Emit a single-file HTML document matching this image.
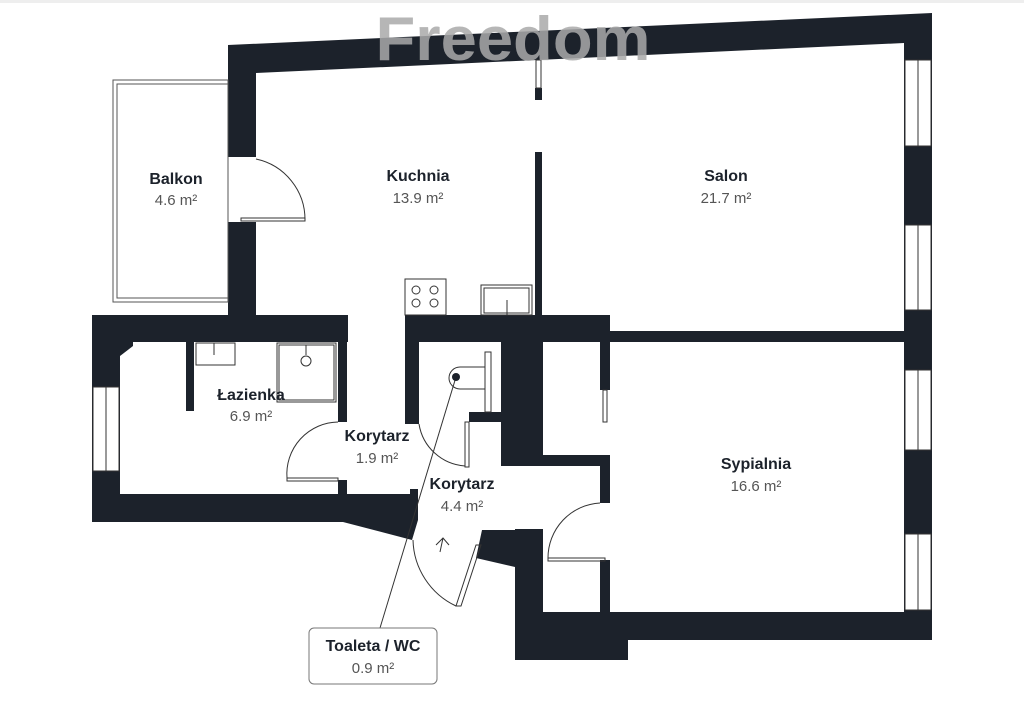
<!DOCTYPE html>
<html><head><meta charset="utf-8"><style>
html,body{margin:0;padding:0;background:#fff;width:1024px;height:724px;overflow:hidden}
svg{display:block}
text{font-family:"Liberation Sans",sans-serif;text-anchor:middle}
.t{font-weight:bold;font-size:16px;fill:#1c222b}
.a{font-size:15px;fill:#555}
</style></head><body>
<svg width="1024" height="724" viewBox="0 0 1024 724">
<rect x="0" y="0" width="1024" height="3" fill="#eee"/>
<g fill="#1c222b">
<polygon points="228,45 932,13 932,43 904,43 256,73 228,73"/>
<rect x="904" y="43" width="28" height="597"/>
<rect x="228" y="45" width="28" height="112"/>
<rect x="228" y="222" width="28" height="96"/>
<rect x="535" y="88" width="7" height="12"/>
<rect x="535" y="152" width="7" height="170"/>
<rect x="92" y="315" width="256" height="27"/>
<rect x="92" y="315" width="28" height="207"/>
<polygon points="120,342 133,342 133,346 120,356"/>
<polygon points="92,494 410,494 410,489 418,489 418,520 412,540 343,522 92,522"/>
<rect x="186" y="340" width="8" height="71"/>
<rect x="338" y="340" width="9" height="82"/>
<rect x="338" y="480" width="9" height="16"/>
<rect x="405" y="315" width="205" height="27"/>
<rect x="608" y="331" width="300" height="11"/>
<rect x="405" y="340" width="14" height="84"/>
<rect x="501" y="340" width="42" height="126"/>
<rect x="469" y="412" width="34" height="10"/>
<rect x="501" y="455" width="109" height="11"/>
<rect x="600" y="340" width="10" height="50"/>
<rect x="600" y="455" width="10" height="48"/>
<rect x="600" y="560" width="10" height="55"/>
<polygon points="482,530 515,530 515,567 476,558"/>
<rect x="515" y="529" width="28" height="131"/>
<rect x="515" y="630" width="113" height="30"/>
<rect x="543" y="612" width="389" height="28"/>
</g>
<g fill="#fff" stroke="#333" stroke-width="1">
<rect x="905" y="60" width="26" height="86"/>
<rect x="905" y="225" width="26" height="85"/>
<rect x="905" y="370" width="26" height="80"/>
<rect x="905" y="534" width="26" height="76"/>
<rect x="93" y="387" width="26" height="84"/>
<rect x="536" y="60" width="5" height="28"/>
<rect x="603" y="390" width="4" height="32"/>
</g>
<g stroke="#333" stroke-width="1">
<line x1="918" y1="60" x2="918" y2="146"/><line x1="918" y1="225" x2="918" y2="310"/>
<line x1="918" y1="370" x2="918" y2="450"/><line x1="918" y1="534" x2="918" y2="610"/>
<line x1="106" y1="387" x2="106" y2="471"/>
</g>
<rect x="113" y="80" width="115" height="222" fill="none" stroke="#555"/>
<rect x="117" y="84" width="111" height="214" fill="none" stroke="#555"/>
<g fill="none" stroke="#333" stroke-width="1">
<path d="M256,159 A62,62 0 0 1 305,220"/><rect x="241" y="218" width="64" height="3"/>
<path d="M338,422 A52,52 0 0 0 287,478"/><rect x="287" y="478" width="51" height="3"/>
<path d="M419,424 A50,50 0 0 0 465,466"/><rect x="465" y="422" width="4" height="45"/>
<path d="M413,540 A75,75 0 0 0 456,606"/><polygon points="456,606 461,606 481,545 476,545"/>
<path d="M600,503 A55,55 0 0 0 548,558"/><rect x="548" y="558" width="57" height="3"/>
<path d="M436,545 L443,538 L449,545 M443,538 L440,552"/>
<rect x="405" y="279" width="41" height="36"/>
<circle cx="416" cy="290" r="4"/><circle cx="434" cy="290" r="4"/><circle cx="416" cy="303" r="4"/><circle cx="434" cy="303" r="4"/>
<rect x="481" y="285" width="51" height="30"/><rect x="484" y="288" width="45" height="25"/><line x1="507" y1="300" x2="507" y2="315"/>
<rect x="196" y="343" width="39" height="22"/><line x1="214" y1="343" x2="214" y2="355"/>
<rect x="277" y="343" width="59" height="59"/><rect x="279" y="345" width="55" height="55"/>
<line x1="306" y1="345" x2="306" y2="355"/><circle cx="306" cy="361" r="5"/>
<path d="M460,367 A11,11 0 0 0 460,389 L485,389 L485,367 Z"/>
<rect x="485" y="352" width="6" height="60"/>
<line x1="456" y1="377" x2="380" y2="628"/>
</g>
<circle cx="456" cy="377" r="4" fill="#1c222b"/>
<text x="513" y="60" textLength="275" lengthAdjust="spacingAndGlyphs" style="font-size:62px;font-weight:bold;fill:#aaa;opacity:0.85">Freedom</text>
<text class="t" x="176" y="184">Balkon</text><text class="a" x="176" y="205">4.6 m²</text>
<text class="t" x="418" y="181">Kuchnia</text><text class="a" x="418" y="203">13.9 m²</text>
<text class="t" x="726" y="181">Salon</text><text class="a" x="726" y="203">21.7 m²</text>
<text class="t" x="251" y="400">Łazienka</text><text class="a" x="251" y="421">6.9 m²</text>
<text class="t" x="377" y="441">Korytarz</text><text class="a" x="377" y="463">1.9 m²</text>
<text class="t" x="462" y="489">Korytarz</text><text class="a" x="462" y="511">4.4 m²</text>
<text class="t" x="756" y="469">Sypialnia</text><text class="a" x="756" y="491">16.6 m²</text>
<rect x="309" y="628" width="128" height="56" rx="5" fill="#fff" stroke="#777"/>
<text class="t" x="373" y="651">Toaleta / WC</text><text class="a" x="373" y="673">0.9 m²</text>
</svg>
</body></html>
